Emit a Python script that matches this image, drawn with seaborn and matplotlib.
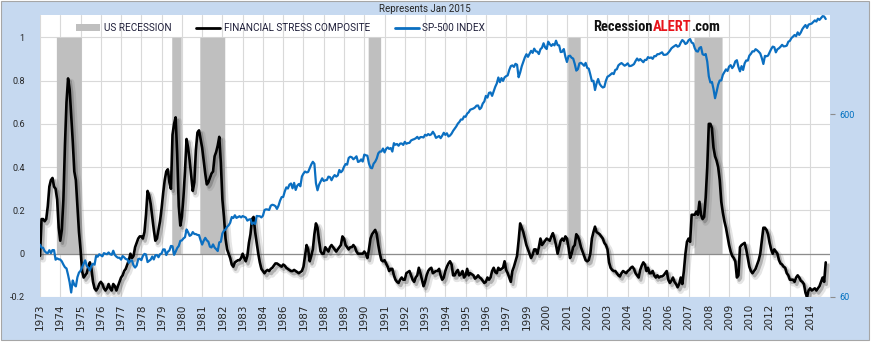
import numpy as np
import pandas as pd
import matplotlib
matplotlib.use("Agg")
import matplotlib.pyplot as plt
import matplotlib.patheffects as pe
from matplotlib.patches import Rectangle, Patch
from matplotlib.lines import Line2D
from matplotlib.ticker import NullLocator
from matplotlib import font_manager
import seaborn as sns

# ---------------- data ----------------
START_MONTH = "1973-01"

# Financial stress composite, monthly (Jan 1973 .. Jan 2015)
stress = [
    -0.01, 0.16, 0.16, 0.15, 0.16, 0.22, 0.31, 0.34, 0.35, 0.31, 0.30, 0.25,          # 1973
    0.12, 0.06, 0.11, 0.25, 0.50, 0.70, 0.81, 0.76, 0.64, 0.52, 0.38, 0.34,           # 1974
    0.22, 0.10, 0.02, -0.08, -0.11, -0.10, -0.09, -0.06, -0.04, -0.07, -0.13, -0.16,  # 1975
    -0.17, -0.16, -0.14, -0.13, -0.14, -0.16, -0.17, -0.16, -0.14, -0.16, -0.17, -0.14,  # 1976
    -0.15, -0.17, -0.15, -0.13, -0.11, -0.10, -0.08, -0.07, -0.05, -0.03, 0.0, -0.02,    # 1977
    -0.01, 0.03, 0.05, 0.07, 0.08, 0.08, 0.07, 0.10, 0.18, 0.29, 0.27, 0.23,          # 1978
    0.17, 0.11, 0.06, 0.07, 0.11, 0.15, 0.21, 0.28, 0.34, 0.38, 0.39, 0.33,           # 1979
    0.30, 0.55, 0.60, 0.63, 0.46, 0.22, 0.13, 0.17, 0.26, 0.38, 0.53, 0.49,           # 1980
    0.43, 0.36, 0.29, 0.33, 0.48, 0.56, 0.57, 0.53, 0.49, 0.43, 0.37, 0.32,           # 1981
    0.33, 0.35, 0.37, 0.38, 0.45, 0.47, 0.50, 0.54, 0.42, 0.25, 0.17, 0.07,           # 1982
    0.02, 0.0, -0.02, -0.05, -0.06, -0.04, -0.035, -0.03, -0.03, -0.02, 0.0, -0.02,   # 1983
    -0.035, -0.01, 0.05, 0.09, 0.16, 0.17, 0.10, 0.05, 0.0, -0.04, -0.07, -0.08,      # 1984
    -0.09, -0.08, -0.075, -0.08, -0.07, -0.065, -0.055, -0.045, -0.045, -0.05, -0.055, -0.06,  # 1985
    -0.05, -0.055, -0.065, -0.07, -0.075, -0.08, -0.08, -0.075, -0.08, -0.085, -0.09, -0.085,  # 1986
    -0.08, -0.06, -0.01, 0.04, 0.02, -0.035, -0.01, 0.02, 0.09, 0.14, 0.12, 0.06,     # 1987
    0.01, 0.0, 0.0, 0.03, 0.02, 0.01, 0.03, 0.04, 0.03, 0.02, 0.01, 0.02,             # 1988
    0.03, 0.04, 0.08, 0.07, 0.04, 0.03, 0.02, 0.03, 0.03, 0.04, 0.03, 0.01,           # 1989
    0.0, 0.0, 0.0, 0.0, 0.01, 0.0, -0.02, 0.02, 0.07, 0.09, 0.10, 0.11,               # 1990
    0.09, 0.04, 0.0, -0.03, -0.035, -0.03, -0.045, -0.06, -0.08, -0.07, -0.07, -0.10, # 1991
    -0.12, -0.13, -0.135, -0.12, -0.11, -0.12, -0.12, -0.09, -0.085, -0.08, -0.10, -0.12,  # 1992
    -0.13, -0.11, -0.10, -0.065, -0.09, -0.12, -0.15, -0.13, -0.10, -0.08, -0.07, -0.065,  # 1993
    -0.09, -0.085, -0.08, -0.08, -0.07, -0.10, -0.12, -0.11, -0.08, -0.06, -0.045, -0.035, # 1994
    -0.05, -0.10, -0.10, -0.085, -0.075, -0.10, -0.095, -0.08, -0.11, -0.10, -0.07, -0.10, # 1995
    -0.09, -0.095, -0.10, -0.115, -0.11, -0.10, -0.11, -0.115, -0.125, -0.135, -0.13, -0.11,  # 1996
    -0.12, -0.11, -0.08, -0.065, -0.085, -0.09, -0.065, -0.075, -0.07, -0.065, -0.035, -0.075, # 1997
    -0.09, -0.11, -0.13, -0.08, -0.06, -0.035, -0.01, 0.06, 0.14, 0.12, 0.10, 0.07,   # 1998
    0.04, 0.02, 0.0, -0.02, -0.005, 0.02, 0.02, 0.0, 0.03, 0.07, 0.04, 0.05,          # 1999
    0.06, 0.07, 0.065, 0.06, 0.08, 0.095, 0.07, 0.04, 0.0, 0.03, 0.06, 0.07,          # 2000
    0.06, 0.08, 0.07, 0.03, -0.02, 0.0, 0.03, 0.04, 0.09, 0.08, 0.06, 0.03,           # 2001
    0.01, -0.01, -0.03, -0.035, -0.03, 0.0, 0.07, 0.10, 0.125, 0.10, 0.095, 0.09,     # 2002
    0.08, 0.07, 0.05, 0.04, 0.02, -0.04, -0.065, -0.075, -0.08, -0.08, -0.09, -0.10,  # 2003
    -0.105, -0.09, -0.08, -0.085, -0.09, -0.08, -0.075, -0.065, -0.06, -0.07, -0.09, -0.10,  # 2004
    -0.11, -0.075, -0.055, -0.04, -0.05, -0.08, -0.065, -0.09, -0.09, -0.08, -0.10, -0.11,   # 2005
    -0.10, -0.11, -0.105, -0.105, -0.10, -0.09, -0.08, -0.12, -0.135, -0.125, -0.11, -0.13,  # 2006
    -0.14, -0.155, -0.14, -0.11, -0.14, -0.08, 0.0, 0.055, 0.07, 0.055, 0.18, 0.18,   # 2007
    0.18, 0.195, 0.18, 0.24, 0.18, 0.16, 0.17, 0.26, 0.40, 0.60, 0.60, 0.58,          # 2008
    0.49, 0.45, 0.43, 0.40, 0.34, 0.24, 0.19, 0.15, 0.12, 0.08, 0.04, 0.01,           # 2009
    -0.01, -0.02, -0.035, -0.11, -0.10, 0.03, 0.04, 0.045, 0.05, 0.02, -0.02, -0.06,  # 2010
    -0.08, -0.09, -0.08, -0.07, -0.05, -0.03, 0.0, 0.06, 0.12, 0.12, 0.11, 0.09,      # 2011
    0.05, 0.02, 0.0, 0.02, 0.01, 0.0, -0.03, -0.045, -0.05, -0.06, -0.065, -0.09,     # 2012
    -0.10, -0.12, -0.12, -0.12, -0.13, -0.11, -0.10, -0.11, -0.125, -0.13, -0.14, -0.18,  # 2013
    -0.20, -0.17, -0.16, -0.17, -0.165, -0.16, -0.17, -0.16, -0.15, -0.13, -0.11, -0.13,  # 2014
    -0.04,                                                                            # 2015
]

# S&P 500 index, monthly (Jan 1973 .. Jan 2015)
sp500 = [
    116.0, 111.7, 111.5, 106.9, 104.9, 104.3, 108.2, 104.3, 108.4, 108.3, 96.0, 97.6,
    96.6, 96.2, 94.0, 90.3, 87.3, 86.0, 79.3, 72.2, 63.5, 73.9, 70.0, 68.6,
    77.0, 81.6, 83.4, 87.3, 91.2, 95.2, 88.8, 86.9, 83.9, 89.0, 91.2, 90.2,
    100.9, 99.7, 102.8, 101.6, 100.2, 104.3, 103.4, 102.9, 105.2, 102.9, 102.1, 107.5,
    102.0, 99.8, 98.4, 98.4, 96.1, 100.5, 98.9, 96.8, 96.5, 92.3, 94.8, 95.1,
    89.3, 87.0, 89.2, 96.8, 97.2, 95.5, 100.7, 103.3, 102.5, 93.2, 94.7, 96.1,
    99.9, 96.3, 101.6, 101.8, 99.1, 102.9, 103.8, 109.3, 109.3, 101.8, 106.2, 107.9,
    114.2, 113.7, 102.1, 106.3, 111.2, 114.2, 121.7, 122.4, 125.5, 127.5, 140.5, 135.8,
    129.6, 131.3, 136.0, 132.8, 132.6, 131.2, 130.9, 122.8, 116.2, 121.9, 126.4, 122.6,
    120.4, 113.1, 112.0, 116.4, 111.9, 109.6, 107.1, 119.5, 120.4, 133.7, 138.5, 140.6,
    145.3, 148.1, 153.0, 164.4, 162.4, 168.1, 162.6, 164.4, 166.1, 163.6, 166.4, 164.9,
    163.4, 157.1, 159.2, 160.1, 150.6, 153.2, 150.7, 166.7, 166.1, 166.1, 163.6, 167.2,
    179.6, 181.2, 180.7, 179.8, 189.6, 191.9, 190.9, 188.6, 182.1, 189.8, 202.2, 211.3,
    211.8, 226.9, 238.9, 235.5, 247.4, 250.8, 236.1, 252.9, 231.3, 244.0, 249.2, 242.2,
    274.1, 284.2, 291.7, 288.4, 290.1, 304.0, 318.7, 329.8, 321.8, 251.8, 230.3, 247.1,
    257.1, 267.8, 258.9, 261.3, 262.2, 273.5, 272.0, 261.5, 271.9, 279.0, 273.7, 277.7,
    297.5, 288.9, 294.9, 309.6, 320.5, 318.0, 346.1, 351.5, 349.2, 340.4, 346.0, 353.4,
    329.1, 331.9, 339.9, 330.8, 361.2, 358.0, 356.2, 322.6, 306.1, 304.0, 322.2, 330.2,
    343.9, 367.1, 375.2, 375.4, 389.8, 371.2, 387.8, 395.4, 387.9, 392.5, 375.2, 417.1,
    408.8, 412.7, 403.7, 415.0, 415.4, 408.1, 424.2, 414.0, 417.8, 418.7, 431.4, 435.7,
    438.8, 443.4, 451.7, 440.2, 450.2, 450.5, 448.1, 463.6, 458.9, 467.8, 461.8, 466.5,
    481.6, 467.1, 445.8, 450.9, 456.5, 444.3, 458.3, 475.5, 462.7, 472.4, 453.7, 459.3,
    470.4, 487.4, 500.7, 514.7, 533.4, 544.8, 562.1, 561.9, 584.4, 581.5, 605.4, 615.9,
    636.0, 640.4, 645.5, 654.2, 669.1, 670.6, 640.0, 652.0, 687.3, 705.3, 757.0, 740.7,
    786.2, 790.8, 757.1, 801.3, 848.3, 885.1, 954.3, 899.5, 947.3, 914.6, 955.4, 970.4,
    980.3, 1049.3, 1101.8, 1111.8, 1090.8, 1133.8, 1120.7, 957.3, 1017.0, 1098.7, 1163.6, 1229.2,
    1279.6, 1238.3, 1286.4, 1335.2, 1301.8, 1372.7, 1328.7, 1320.4, 1282.7, 1362.9, 1388.9, 1469.3,
    1394.5, 1366.4, 1498.6, 1452.4, 1420.6, 1454.6, 1430.8, 1517.7, 1436.5, 1429.4, 1315.0, 1320.3,
    1366.0, 1239.9, 1160.3, 1249.5, 1255.8, 1224.4, 1211.2, 1133.6, 1040.9, 1059.8, 1139.5, 1148.1,
    1130.2, 1106.7, 1147.4, 1076.9, 1067.1, 989.8, 911.6, 916.1, 815.3, 885.8, 936.3, 879.8,
    855.7, 841.2, 848.2, 916.9, 963.6, 974.5, 990.3, 1008.0, 996.0, 1050.7, 1058.2, 1111.9,
    1131.1, 1144.9, 1126.2, 1107.3, 1120.7, 1140.8, 1101.7, 1104.2, 1114.6, 1130.2, 1173.8, 1211.9,
    1181.3, 1203.6, 1180.6, 1156.9, 1191.5, 1191.3, 1234.2, 1220.3, 1228.8, 1207.0, 1249.5, 1248.3,
    1280.1, 1280.7, 1294.8, 1310.6, 1270.1, 1270.2, 1276.7, 1303.8, 1335.9, 1377.9, 1400.6, 1418.3,
    1438.2, 1406.8, 1420.9, 1482.4, 1530.6, 1503.4, 1455.3, 1474.0, 1526.8, 1549.4, 1481.1, 1468.4,
    1378.6, 1330.6, 1322.7, 1385.6, 1400.4, 1280.0, 1267.4, 1282.8, 1166.4, 968.8, 896.2, 903.3,
    825.9, 735.1, 797.9, 872.8, 919.1, 919.3, 987.5, 1020.6, 1057.1, 1036.2, 1095.6, 1115.1,
    1073.9, 1104.5, 1169.4, 1186.7, 1089.4, 1030.7, 1101.6, 1049.3, 1141.2, 1183.3, 1180.6, 1257.6,
    1286.1, 1327.2, 1325.8, 1363.6, 1345.2, 1320.6, 1292.3, 1218.9, 1131.4, 1253.3, 1247.0, 1257.6,
    1312.4, 1365.7, 1408.5, 1397.9, 1310.3, 1362.2, 1379.3, 1406.6, 1440.7, 1412.2, 1416.2, 1426.2,
    1498.1, 1514.7, 1569.2, 1597.6, 1630.7, 1606.3, 1685.7, 1633.0, 1681.6, 1756.5, 1805.8, 1848.4,
    1782.6, 1859.5, 1872.3, 1884.0, 1923.6, 1960.2, 1930.7, 2003.4, 1972.3, 2018.1, 2067.6, 2058.9,
    1995.0,
]

# US recessions (first and last month flagged)
recessions = [
    ("1973-12", "1975-03"),
    ("1980-02", "1980-07"),
    ("1981-08", "1982-11"),
    ("1990-08", "1991-03"),
    ("2001-04", "2001-11"),
    ("2008-01", "2009-06"),
]

# category-axis labels (one every 13 months, as in the original)
x_tick_step = 13
x_tick_labels = ["1973", "1974", "1975", "1976", "1977", "1978", "1979", "1980",
                 "1981", "1982", "1983", "1984", "1986", "1987", "1988", "1989",
                 "1990", "1991", "1992", "1993", "1994", "1995", "1996", "1997",
                 "1999", "2000", "2001", "2002", "2003", "2004", "2005", "2006",
                 "2007", "2008", "2009", "2010", "2012", "2013", "2014"]
y_left_ticks = [-0.2, 0.0, 0.2, 0.4, 0.6, 0.8, 1.0]
y_left_labels = ["-0.2", "0", "0.2", "0.4", "0.6", "0.8", "1"]
y_right_ticks = [60, 600]
y_right_labels = ["60", "600"]

title_text = "Represents Jan 2015"
legend_labels = ["US RECESSION", "FINANCIAL STRESS COMPOSITE", "SP-500 INDEX"]
logo_parts = [("Recession", "#111111"), ("ALERT", "#E8141B"), (".com", "#111111")]

# ---------------- build frame ----------------
n = len(stress)
assert len(sp500) == n
months = pd.date_range(START_MONTH, periods=n, freq="MS")
rec_flag = np.zeros(n)
for s, e in recessions:
    rec_flag[(months >= pd.Timestamp(s)) & (months <= pd.Timestamp(e))] = 1.0
df = pd.DataFrame({"i": np.arange(n), "stress": stress, "sp500": sp500, "rec": rec_flag})

# ---------------- style ----------------
sns.set_style("white")
plt.rcParams["font.family"] = ["Roboto", "DejaVu Sans"]

BG = "#C6D9F0"
GRID = "#D9D9D9"
BLUE = "#0B6FC1"
TXT = "#262626"

W, H = 871, 343
fig = plt.figure(figsize=(W / 100, H / 100), dpi=100, facecolor="white")
fig.add_artist(Rectangle((0.5 / W, (H - 339.5) / H), 868.5 / W, 339 / H,
                         transform=fig.transFigure, facecolor=BG,
                         edgecolor="#A6A6A6", linewidth=0.8, zorder=-5))

ax = fig.add_axes([40 / W, 46 / H, 790 / W, 282 / H])
ax.set_facecolor("white")

# recession bands (0..1 on the left axis)
ax.fill_between(df["i"], 0, df["rec"], step="mid", color="#BFBFBF", linewidth=0, zorder=1)

# stress composite with shadow
sns.lineplot(data=df, x="i", y="stress", ax=ax, color="black", linewidth=1.9, zorder=3)
stress_line = ax.lines[-1]
stress_line.set_path_effects([
    pe.SimpleLineShadow(offset=(2.2, -2.6), shadow_color="#707070", alpha=0.18, linewidth=4.5),
    pe.SimpleLineShadow(offset=(1.6, -2.0), shadow_color="#505050", alpha=0.35, linewidth=2.2),
    pe.Normal(),
])

ax.axhline(0, color="#8C8C8C", linewidth=0.9, zorder=2)

ax.set_xlim(0, 790 / 1.559)
ax.set_ylim(-0.2, 1.103)
xt = np.arange(0, n, x_tick_step)[:len(x_tick_labels)]
ax.set_xticks(xt)
ax.set_xticklabels(x_tick_labels)
ax.set_yticks(y_left_ticks)
ax.set_yticklabels(y_left_labels)
ax.grid(True, color=GRID, linewidth=0.8)
ax.set_axisbelow(True)
ax.set_xlabel("")
ax.set_ylabel("")
ax.tick_params(axis="x", length=0, pad=5, labelsize=7.5, labelrotation=90, labelcolor=TXT)
ax.tick_params(axis="y", length=0, pad=11, labelsize=6.5, labelcolor=TXT)
for lbl in ax.get_xticklabels():
    lbl.set_fontfamily("DejaVu Sans")
for sp in ax.spines.values():
    sp.set_visible(False)

# S&P 500 on secondary log axis
ax2 = ax.twinx()
sns.lineplot(data=df, x="i", y="sp500", ax=ax2, color=BLUE, linewidth=1.6, zorder=4)
ax2.set_yscale("log")
ax2.set_ylim(60, 2098)
ax2.set_yticks(y_right_ticks)
ax2.set_yticklabels(y_right_labels)
ax2.yaxis.set_minor_locator(NullLocator())
ax2.set_ylabel("")
ax2.grid(False)
ax2.tick_params(axis="y", length=3.5, width=0.8, color="#8C8C8C", pad=3,
                labelsize=6.5, labelcolor="#0070C0")
for sp in ax2.spines.values():
    sp.set_visible(False)

# legend
handles = [Patch(facecolor="#BFBFBF", edgecolor="none"),
           Line2D([], [], color="black", linewidth=2),
           Line2D([], [], color=BLUE, linewidth=2)]
fig.legend(handles, legend_labels, loc="center left",
           bbox_to_anchor=(76 / W, 1 - 28 / H), ncol=3, frameon=False,
           fontsize=7.2, handlelength=2.4, handleheight=0.6, handletextpad=0.35,
           columnspacing=2.5, borderaxespad=0, borderpad=0, labelcolor="#1F1F3A")

# title
fig.text(425 / W, 1 - 9.5 / H, title_text, ha="center", va="center",
         fontsize=7, color=TXT)

# logo text, sized so it spans about 127 px like the original
names = {f.name for f in font_manager.fontManager.ttflist}
logo_family = "Roboto"
for cand in ["Liberation Sans Narrow", "Roboto Condensed", "Open Sans Condensed", "DejaVu Sans Condensed"]:
    if cand in names:
        logo_family = cand
        break
renderer = fig.canvas.get_renderer()


def draw_logo(size):
    x_px = 593.0
    arts = []
    for part, col in logo_parts:
        t = fig.text(x_px / W, 1 - 31 / H, part, ha="left", va="baseline",
                     fontsize=size, fontweight="bold", color=col, family=logo_family)
        x_px += t.get_window_extent(renderer).width
        arts.append(t)
    return arts, x_px - 593.0


arts, width = draw_logo(12.5)
for a in arts:
    a.remove()
draw_logo(12.5 * 127.0 / width)

fig.savefig("out.png", dpi=100, facecolor=fig.get_facecolor())
